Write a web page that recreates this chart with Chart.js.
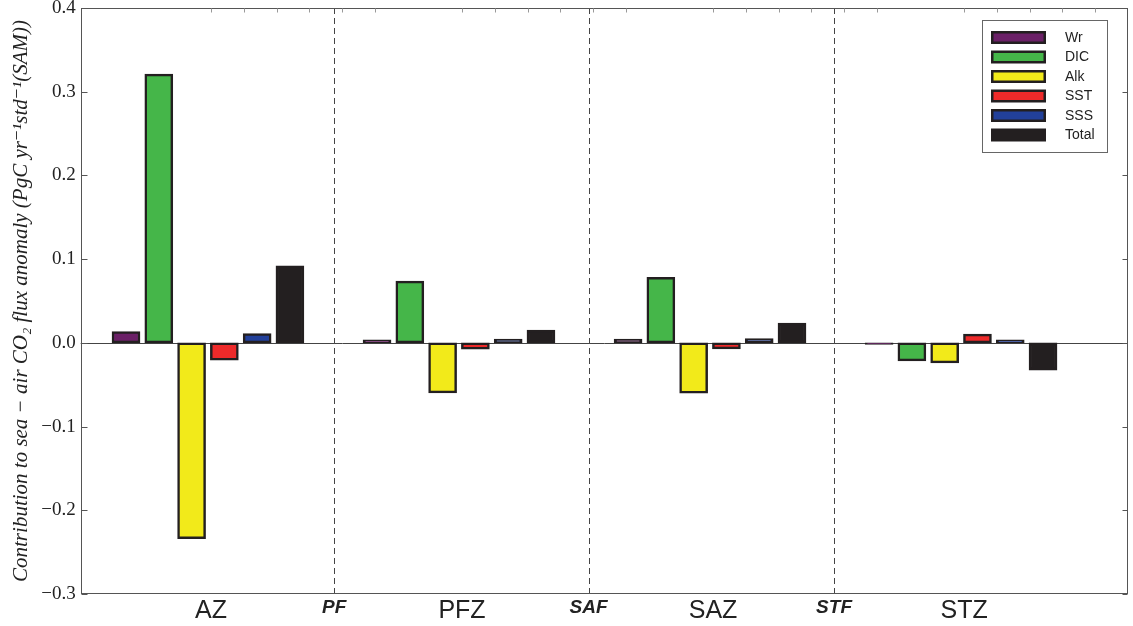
<!DOCTYPE html>
<html>
<head>
<meta charset="utf-8">
<script src="https://cdn.jsdelivr.net/npm/chart.js@4.4.1/dist/chart.umd.min.js"></script>
<style>
  html, body { margin: 0; padding: 0; background: #ffffff; }
  #wrap { position: relative; width: 1133px; height: 626px; }
</style>
</head>
<body>
<div id="wrap"><canvas id="c" width="1133" height="626"></canvas></div>
<script>
// ---------------- data ----------------
const categories = ['AZ', 'PFZ', 'SAZ', 'STZ'];
const frontLabels = ['PF', 'SAF', 'STF'];
const seriesNames = ['Wr', 'DIC', 'Alk', 'SST', 'SSS', 'Total'];
const wrValues    = [0.0135, 0.0036, 0.0044, -0.0020];
const dicValues   = [0.3210, 0.0737, 0.0784, -0.0215];
const alkValues   = [-0.2340, -0.0597, -0.0600, -0.0239];
const sstValues   = [-0.0207, -0.0075, -0.0072, 0.0104];
const sssValues   = [0.0110, 0.0044, 0.0051, 0.0036];
const totalValues = [0.0920, 0.0152, 0.0235, -0.0326];
const yTickValues = [-0.3, -0.2, -0.1, 0.0, 0.1, 0.2, 0.3, 0.4];
const yAxisTitle = 'Contribution to sea \u2212 air CO\u2082 flux anomaly (PgC yr\u207B\u00B9std\u207B\u00B9(SAM))';

// ---------------- layout / style ----------------
const seriesValues = [wrValues, dicValues, alkValues, sstValues, sssValues, totalValues];
const seriesColors = ['#6b2067', '#45b649', '#f2ea1a', '#ee2a2a', '#22409a', '#231f20'];
const EDGE = '#231f20';
const BAR_PITCH = 0.1306;          // distance between bars inside a group (axis units)
const LABEL_SHIFT = 0.012;         // zone labels sit slightly right of group centre
const FRONT_POS = [0.503, 1.516, 2.494]; // dashed front separators
const X_MIN = -0.507, X_MAX = 3.665;

// x tick positions & labels (zones interleaved with fronts)
const xTickPos = [], xTickLab = [], xTickFront = [];
categories.forEach((c, g) => {
  xTickPos.push(g + LABEL_SHIFT); xTickLab.push(c); xTickFront.push(false);
  if (g < frontLabels.length) { xTickPos.push(FRONT_POS[g]); xTickLab.push(frontLabels[g]); xTickFront.push(true); }
});

const datasets = seriesNames.map((name, i) => ({
  label: name,
  data: seriesValues[i].map((v, g) => ({ x: g + (i - 2.5) * BAR_PITCH, y: v })),
  backgroundColor: seriesColors[i],
  borderColor: EDGE,
  borderWidth: 2.5,
  borderSkipped: false,
  barThickness: 28,
  grouped: false
}));

const framePlugin = {
  id: 'frame',
  beforeDatasetsDraw(chart) {
    const { ctx, chartArea: a, scales: { x, y } } = chart;
    ctx.save();
    const y0 = Math.round(y.getPixelForValue(0)) + 0.5;
    ctx.strokeStyle = '#444';
    ctx.lineWidth = 1;
    ctx.beginPath(); ctx.moveTo(a.left, y0); ctx.lineTo(a.right, y0); ctx.stroke();
    ctx.setLineDash([6, 4]);
    ctx.strokeStyle = '#444';
    FRONT_POS.forEach(p => {
      const px = Math.round(x.getPixelForValue(p)) + 0.5;
      ctx.beginPath(); ctx.moveTo(px, a.top); ctx.lineTo(px, a.bottom); ctx.stroke();
    });
    ctx.restore();
  },
  afterDatasetsDraw(chart) {
    const { ctx, chartArea: a, scales: { x, y } } = chart;
    ctx.save();
    ctx.strokeStyle = '#555';
    ctx.lineWidth = 1;
    const L = Math.round(a.left) + 0.5, R = Math.round(a.right) - 0.5;
    const T = Math.round(a.top) + 0.5, B = Math.round(a.bottom) - 0.5;
    ctx.strokeRect(L, T, R - L, B - T);
    yTickValues.forEach(v => {
      const py = Math.round(y.getPixelForValue(v)) + 0.5;
      ctx.beginPath(); ctx.moveTo(L, py); ctx.lineTo(L + 6, py); ctx.stroke();
      ctx.beginPath(); ctx.moveTo(R, py); ctx.lineTo(R - 5, py); ctx.stroke();
    });
    ctx.strokeStyle = '#999';
    categories.forEach((c, g) => {
      for (let k = 0; k < 6; k++) {
        const px = Math.round(x.getPixelForValue(g + LABEL_SHIFT + k * BAR_PITCH)) + 0.5;
        if (px > R - 2) continue;
        ctx.beginPath(); ctx.moveTo(px, T); ctx.lineTo(px, T + 4); ctx.stroke();
      }
    });
    // legend
    const lx = 982, ly = 20, lw = 125, lh = 132;
    ctx.fillStyle = '#fff';
    ctx.fillRect(lx, ly, lw, lh);
    ctx.strokeStyle = '#666';
    ctx.strokeRect(lx + 0.5, ly + 0.5, lw, lh);
    ctx.font = '14px "Liberation Sans", Arial, sans-serif';
    ctx.textBaseline = 'middle';
    ctx.textAlign = 'left';
    seriesNames.forEach((n, i) => {
      const cy = 37.5 + i * 19.5;
      ctx.fillStyle = EDGE;
      ctx.fillRect(991, cy - 6.5, 55, 13);
      ctx.fillStyle = seriesColors[i];
      ctx.fillRect(993.5, cy - 4, 50, 8);
      ctx.fillStyle = '#222';
      ctx.fillText(n, 1065, cy + 0.5);
    });
    ctx.restore();
  }
};

new Chart(document.getElementById('c'), {
  type: 'bar',
  data: { datasets },
  options: {
    responsive: false,
    animation: false,
    devicePixelRatio: 1,
    layout: { padding: { left: 0, right: 5, top: 8, bottom: 0 } },
    plugins: { legend: { display: false }, tooltip: { enabled: false } },
    scales: {
      x: {
        type: 'linear',
        offset: false,
        min: X_MIN, max: X_MAX,
        grid: { display: false, drawTicks: false, offset: false },
        border: { display: false },
        afterBuildTicks(scale) { scale.ticks = xTickPos.map(v => ({ value: v })); },
        afterFit(scale) { scale.height = 32; scale.paddingLeft = 0; scale.paddingRight = 0; },
        ticks: {
          autoSkip: false,
          maxRotation: 0,
          padding: 2,
          color: '#222',
          callback: (v, i) => xTickLab[i],
          font: (ctx) => (ctx.index !== undefined && xTickFront[ctx.index])
            ? { family: '"Liberation Sans", Arial, sans-serif', size: 19, weight: 'bold', style: 'italic' }
            : { family: '"Liberation Sans", Arial, sans-serif', size: 25 }
        }
      },
      y: {
        min: -0.3, max: 0.4,
        grid: { display: false, drawTicks: false },
        border: { display: false },
        afterBuildTicks(scale) { scale.ticks = yTickValues.map(v => ({ value: v })); },
        afterFit(scale) { scale.width = 80.7; scale.paddingTop = 0; scale.paddingBottom = 0; },
        ticks: {
          padding: 5,
          color: '#222',
          font: { family: '"Liberation Serif", "DejaVu Serif", serif', size: 19 },
          callback: (v) => Number(v).toFixed(1).replace('-', '\u2212')
        },
        title: {
          display: true,
          text: yAxisTitle,
          color: '#222',
          padding: { top: 9, bottom: 0 },
          font: { family: '"Liberation Serif", "DejaVu Serif", serif', size: 21, style: 'italic' }
        }
      }
    }
  },
  plugins: [framePlugin]
});
</script>
</body>
</html>
